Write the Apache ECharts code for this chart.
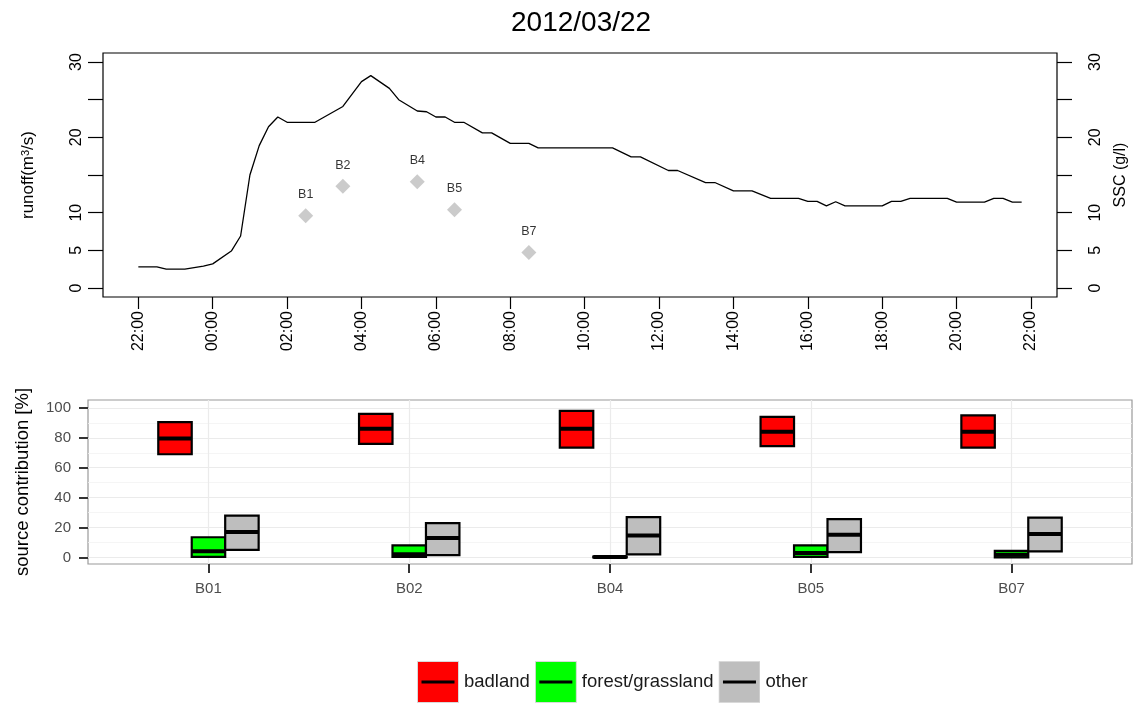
<!DOCTYPE html>
<html>
<head>
<meta charset="utf-8">
<script src="https://cdn.jsdelivr.net/npm/echarts@6/dist/echarts.min.js"></script>
<style>
  html, body { margin: 0; padding: 0; background: #ffffff; }
  #chart { width: 1146px; height: 704px; }
</style>
</head>
<body>
<div id="chart"></div>
<script>
// ---- runoff hydrograph (m3/s), 2012-03-21 22:00 to 2012-03-22 21:45 ----
const runoffTime = [
  "03/21 22:00", "03/21 22:30", "03/21 22:45", "03/21 23:15", "03/21 23:45",
  "03/22 00:00", "03/22 00:30", "03/22 00:45", "03/22 01:00", "03/22 01:15",
  "03/22 01:30", "03/22 01:45", "03/22 02:00", "03/22 02:45", "03/22 03:30",
  "03/22 04:00", "03/22 04:15", "03/22 04:45", "03/22 05:00", "03/22 05:30",
  "03/22 05:45", "03/22 06:00", "03/22 06:15", "03/22 06:30", "03/22 06:45",
  "03/22 07:15", "03/22 07:30", "03/22 08:00", "03/22 08:30", "03/22 08:45",
  "03/22 10:45", "03/22 11:15", "03/22 11:30", "03/22 12:15", "03/22 12:30",
  "03/22 13:15", "03/22 13:30", "03/22 14:00", "03/22 14:30", "03/22 15:00",
  "03/22 15:45", "03/22 16:00", "03/22 16:15", "03/22 16:30", "03/22 16:45",
  "03/22 17:00", "03/22 18:00", "03/22 18:15", "03/22 18:30", "03/22 18:45",
  "03/22 19:45", "03/22 20:00", "03/22 20:45", "03/22 21:00", "03/22 21:15",
  "03/22 21:30", "03/22 21:45"
];
const runoffValue = [
  2.8, 2.8, 2.5, 2.5, 2.9,
  3.2, 4.9, 6.9, 15.0, 18.9,
  21.4, 22.7, 22.0, 22.0, 24.1,
  27.4, 28.2, 26.5, 25.0, 23.5,
  23.4, 22.7, 22.7, 22.0, 22.0,
  20.6, 20.6, 19.2, 19.2, 18.6,
  18.6, 17.4, 17.4, 15.6, 15.6,
  14.0, 14.0, 12.9, 12.9, 11.9,
  11.9, 11.5, 11.5, 10.9, 11.45,
  10.9, 10.9, 11.5, 11.5, 11.9,
  11.9, 11.4, 11.4, 11.9, 11.9,
  11.4, 11.4
];

// ---- suspended sediment samples (g/l) ----
const sscTime = ["03/22 02:30", "03/22 03:30", "03/22 05:30", "03/22 06:30", "03/22 08:30"];
const sscValue = [9.6, 13.5, 14.1, 10.4, 4.7];
const sscLabel = ["B1", "B2", "B4", "B5", "B7"];

// ---- axis ticks of the hydrograph ----
const timeTicks = ["03/21 22:00", "03/22 00:00", "03/22 02:00", "03/22 04:00", "03/22 06:00",
  "03/22 08:00", "03/22 10:00", "03/22 12:00", "03/22 14:00", "03/22 16:00",
  "03/22 18:00", "03/22 20:00", "03/22 22:00"];
const valueTicks = [0, 5, 10, 15, 20, 25, 30];
const valueTickLabels = [0, 5, 10, 20, 30];

// ---- source contributions (%) per sample: crossbar low / middle / high ----
const samples = ["B01", "B02", "B04", "B05", "B07"];
const sources = ["badland", "forest/grassland", "other"];
const sourceColors = ["#FF0000", "#00FF00", "#BEBEBE"];
const badlandLow = [69, 76, 73.5, 74.5, 73.5];
const badlandMid = [79.5, 86, 86, 84, 84];
const badlandHigh = [90.5, 96, 98, 94, 95];
const forestLow = [0.4, 0.3, 0, 0.3, 0];
const forestMid = [4.2, 2.2, 0.2, 3, 1.8];
const forestHigh = [13.5, 8, 0.5, 8, 4.4];
const otherLow = [5, 1.6, 2, 3.5, 4];
const otherMid = [17, 13, 14.6, 15.1, 15.6];
const otherHigh = [28, 23, 27, 25.6, 26.6];
const contributionTicks = [0, 20, 40, 60, 80, 100];
const contributionMinor = [10, 30, 50, 70, 90];

// minutes relative to 2012-03-22 00:00
function toMinutes(s) {
  const [d, hm] = s.split(" ");
  const day = parseInt(d.split("/")[1], 10);
  const [h, m] = hm.split(":").map(Number);
  return (day - 22) * 1440 + h * 60 + m;
}
function clock(min) {
  const t = ((min % 1440) + 1440) % 1440;
  const h = Math.floor(t / 60), m = t % 60;
  return String(h).padStart(2, "0") + ":" + String(m).padStart(2, "0");
}

const FONT = "Liberation Sans, Arial, Helvetica, sans-serif";
const runoffData = runoffTime.map((t, i) => [toMinutes(t), runoffValue[i]]);
const sscData = sscTime.map((t, i) => ({ value: [toMinutes(t), sscValue[i]], name: sscLabel[i] }));
const tickMinutes = timeTicks.map(toMinutes);

// crossbar: filled box from low to high with a heavy middle line
const dodge = [-1 / 6, 0, 1 / 6];
const halfWidth = 1 / 12;
function crossbar(k) {
  return function (params, api) {
    const x = api.value(0) + dodge[k];
    const lo = api.coord([x - halfWidth, api.value(1)]);
    const hi = api.coord([x + halfWidth, api.value(3)]);
    const mid = api.value(2);
    const m0 = api.coord([x - halfWidth, mid]);
    const m1 = api.coord([x + halfWidth, mid]);
    return {
      type: "group",
      children: [
        { type: "rect",
          shape: { x: lo[0], y: hi[1], width: hi[0] - lo[0], height: Math.max(lo[1] - hi[1], 0.5) },
          style: { fill: sourceColors[k], stroke: "#000000", lineWidth: 2.2 } },
        { type: "line",
          shape: { x1: m0[0], y1: m0[1], x2: m1[0], y2: m1[1] },
          style: { stroke: "#000000", lineWidth: 4 } }
      ]
    };
  };
}
const lows = [badlandLow, forestLow, otherLow];
const mids = [badlandMid, forestMid, otherMid];
const highs = [badlandHigh, forestHigh, otherHigh];

function keyIcon(color) {
  const svg = "<svg xmlns='http://www.w3.org/2000/svg' width='42' height='42'>" +
    "<rect x='0.5' y='0.5' width='41' height='41' fill='" + color + "' stroke='#d9d9d9' stroke-width='1'/>" +
    "<line x1='4.5' y1='21' x2='37.5' y2='21' stroke='#000000' stroke-width='3'/></svg>";
  return "image://data:image/svg+xml;charset=utf-8," + encodeURIComponent(svg);
}

const chart = echarts.init(document.getElementById("chart"), null, { renderer: "canvas" });

const topY = (side, margin) => ({
  gridIndex: 0,
  type: "value",
  position: side,
  min: -1.2, max: 31.2,
  axisLine: { show: false, onZero: false },
  axisTick: { show: true, length: 15, customValues: valueTicks, lineStyle: { color: "#000", width: 1.2 } },
  axisLabel: { show: true, customValues: valueTickLabels, rotate: 90, margin: margin,
    fontSize: 16, color: "#000", fontFamily: FONT },
  splitLine: { show: false }
});

const option = {
  backgroundColor: "#ffffff",
  animation: false,
  title: {
    text: "2012/03/22",
    left: 506, top: 4,
    textStyle: { fontSize: 28, fontWeight: "normal", color: "#000", fontFamily: FONT }
  },
  legend: {
    left: 412, top: 656,
    itemWidth: 42, itemHeight: 42, itemGap: 5,
    textStyle: { fontSize: 18.5, color: "#1a1a1a", fontFamily: FONT },
    data: sources.map((s, i) => ({ name: s, icon: keyIcon(sourceColors[i]) })),
    selectedMode: false
  },
  grid: [
    { left: 103, right: 89, top: 53, bottom: 407, show: true, borderColor: "#000", borderWidth: 1.2, backgroundColor: "transparent" },
    { left: 88, right: 14, top: 400, bottom: 140, show: true, borderColor: "#9a9a9a", borderWidth: 1.2, backgroundColor: "transparent" }
  ],
  xAxis: [
    {
      gridIndex: 0, type: "value",
      min: -177, max: 1362,
      axisLine: { show: false, onZero: false },
      axisTick: { show: true, length: 12, customValues: tickMinutes, lineStyle: { color: "#000", width: 1.2 } },
      axisLabel: { show: true, customValues: tickMinutes, rotate: 90, margin: 14, fontSize: 16, color: "#000",
        fontFamily: FONT, formatter: (v) => clock(v) },
      splitLine: { show: false }
    },
    {
      gridIndex: 1, type: "value",
      min: -0.6, max: 4.6,
      axisLine: { show: false, onZero: false },
      axisTick: { show: true, length: 9, customValues: [0, 1, 2, 3, 4], lineStyle: { color: "#333", width: 2 } },
      axisLabel: { show: true, customValues: [0, 1, 2, 3, 4], margin: 17, fontSize: 15, color: "#4d4d4d",
        fontFamily: FONT, formatter: (v) => samples[Math.round(v)] },
      splitLine: { show: true, lineStyle: { color: "#ebebeb", width: 1.2 } }
    }
  ],
  yAxis: [
    Object.assign(topY("left", 18), {
      name: "runoff(m{sup|3}/s)", nameLocation: "middle", nameRotate: 90, nameGap: 66,
      nameTextStyle: { fontSize: 17, color: "#000", fontFamily: FONT,
        rich: { sup: { fontSize: 11, verticalAlign: "top", fontFamily: FONT, color: "#000", lineHeight: 10 } } }
    }),
    Object.assign(topY("right", 31), {
      name: "SSC (g/l)", nameLocation: "middle", nameRotate: 90, nameGap: 56,
      nameTextStyle: { fontSize: 16, color: "#000", fontFamily: FONT }
    }),
    {
      gridIndex: 1, type: "value", position: "left",
      min: -4.4, max: 105.3,
      name: "source contribution [%]", nameLocation: "middle", nameRotate: 90, nameGap: 56,
      nameTextStyle: { fontSize: 18.5, color: "#000", fontFamily: FONT },
      axisLine: { show: false, onZero: false },
      axisTick: { show: true, length: 9, customValues: contributionTicks, lineStyle: { color: "#333", width: 2 } },
      axisLabel: { show: true, customValues: contributionTicks, margin: 17, fontSize: 15, color: "#4d4d4d", fontFamily: FONT },
      splitLine: { show: true, lineStyle: { color: "#ebebeb", width: 1.2 } }
    },
    {
      gridIndex: 1, type: "value", position: "left",
      min: -4.4, max: 105.3,
      axisLine: { show: false, onZero: false },
      axisTick: { show: false, customValues: contributionMinor },
      axisLabel: { show: false, customValues: contributionMinor },
      splitLine: { show: true, lineStyle: { color: "#f3f3f3", width: 0.8 } }
    }
  ],
  series: [
    {
      name: "runoff", type: "line",
      xAxisIndex: 0, yAxisIndex: 0,
      data: runoffData,
      showSymbol: false, symbol: "none",
      lineStyle: { color: "#000", width: 1.3 },
      z: 3
    },
    {
      name: "SSC", type: "scatter",
      xAxisIndex: 0, yAxisIndex: 1,
      data: sscData,
      symbol: "diamond", symbolSize: [15, 15],
      itemStyle: { color: "#BEBEBE" },
      label: { show: true, position: "top", distance: 7, formatter: (p) => p.name,
        fontSize: 12.5, color: "#000", fontFamily: FONT },
      z: 4
    }
  ].concat(sources.map((s, k) => ({
    name: s, type: "custom",
    xAxisIndex: 1, yAxisIndex: 2,
    renderItem: crossbar(k),
    encode: { x: 0, y: [1, 2, 3] },
    itemStyle: { color: sourceColors[k] },
    data: samples.map((c, i) => [i, lows[k][i], mids[k][i], highs[k][i]]),
    z: 5
  })))
};

chart.setOption(option);
</script>
</body>
</html>
